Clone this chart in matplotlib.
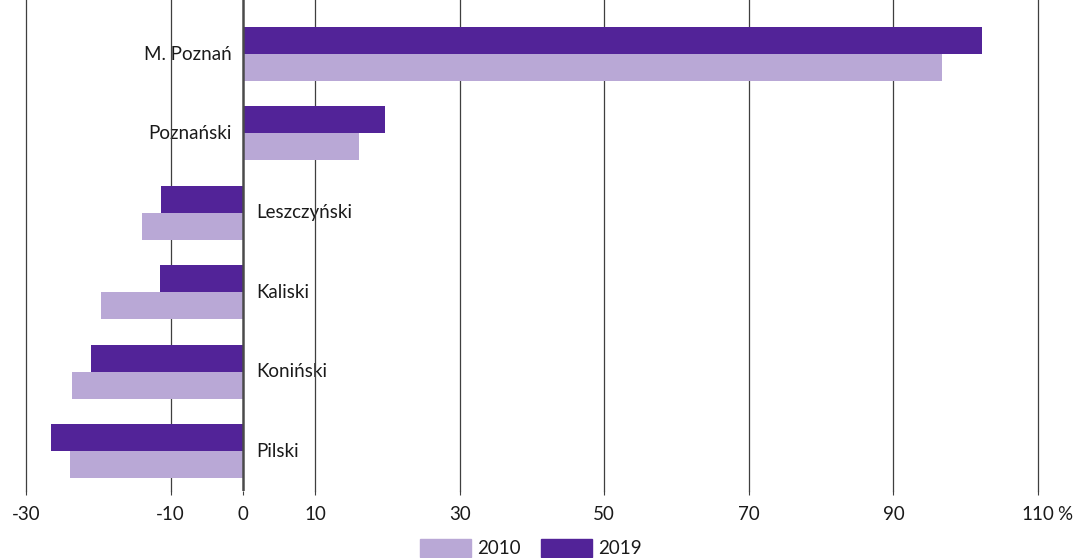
import numpy as np
import matplotlib.pyplot as plt
import matplotlib.patches as patches

plt.rcParams['font.family'] = ['Lato', 'DejaVu Sans']

regions = ['M. Poznań', 'Poznański', 'Leszczyński', 'Kaliski', 'Koniński', 'Pilski']
vals_2010 = [96.7, 16.0, -13.9, -19.6, -23.7, -23.9]
vals_2019 = [102.3, 19.7, -11.3, -11.5, -21.0, -26.6]
xticks = [-30, -10, 0, 10, 30, 50, 70, 90, 110]
xtick_labels = ['-30', '-10', '0', '10', '30', '50', '70', '90', '110']

c2010 = '#b9a8d6'
c2019 = '#522398'
grid_c = '#3f3f3f'
txt_c = '#1a1a1a'
fs = 13.5

fig = plt.figure(figsize=(10.77, 5.58), dpi=100)
ax = fig.add_axes([26 / 1077, 1 - 491 / 558, (1038 - 26) / 1077, 491 / 558])

y = np.arange(len(regions))
h = 0.34
ax.barh(y - h / 2, vals_2019, height=h, color=c2019, zorder=2)
ax.barh(y + h / 2, vals_2010, height=h, color=c2010, zorder=2)

ax.set_xlim(-30, 110)
ax.set_ylim(5.5, -0.68)

for t in xticks:
    if t != 0:
        ax.axvline(t, color=grid_c, lw=0.9, zorder=1, clip_on=False)
ax.axvline(0, color='#4a4a4a', lw=1.8, zorder=3)

for yi, region, v in zip(y, regions, vals_2019):
    if v > 0:
        ax.text(-1.5, yi, region, ha='right', va='center', fontsize=fs, color=txt_c, zorder=0.5)
    else:
        ax.text(1.8, yi, region, ha='left', va='center', fontsize=fs, color=txt_c, zorder=0.5)

ax.set_xticks(xticks)
ax.set_xticklabels(xtick_labels, fontsize=fs, color=txt_c)
ax.tick_params(axis='x', length=3, width=0.8, color=grid_c, pad=8)
ax.set_yticks([])
for s in ax.spines.values():
    s.set_visible(False)

# unit sign after the last tick label
ax.annotate('%', xy=(110, 0), xycoords=('data', 'axes fraction'), xytext=(14, -11),
            textcoords='offset points', ha='left', va='top', fontsize=fs, color=txt_c)

handles = [patches.Patch(color=c2010, label='2010'), patches.Patch(color=c2019, label='2019')]
fig.legend(handles=handles, loc='center', bbox_to_anchor=(531 / 1077, 1 - 548 / 558), ncol=2,
           frameon=False, fontsize=fs, handlelength=2.7, handleheight=1.17,
           handletextpad=0.35, columnspacing=1.1, borderpad=0, labelcolor=txt_c)

fig.savefig('out.png', dpi=100)
